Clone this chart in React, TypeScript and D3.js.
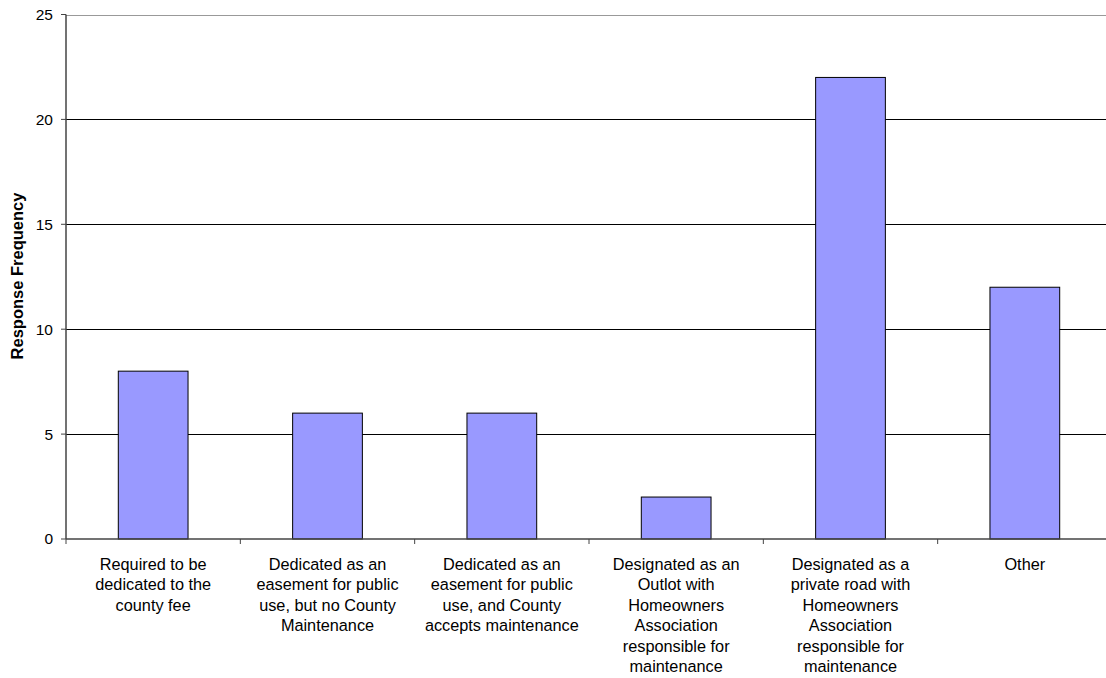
import React from "react";
import * as d3 from "d3";

const categories: string[][] = [
  ["Required to be", "dedicated to the", "county fee"],
  ["Dedicated as an", "easement for public", "use, but no County", "Maintenance"],
  ["Dedicated as an", "easement for public", "use, and County", "accepts maintenance"],
  ["Designated as an", "Outlot with", "Homeowners", "Association", "responsible for", "maintenance"],
  ["Designated as a", "private road with", "Homeowners", "Association", "responsible for", "maintenance"],
  ["Other"],
];
const values: number[] = [8, 6, 6, 2, 22, 12];
const yTicks: number[] = [0, 5, 10, 15, 20, 25];

const W = 1106;
const H = 678;
const left = 66;
const right = 1112;
const top = 14.5;
const bottom = 539;

export default function App() {
  const keys = categories.map((_, i) => String(i));
  const x = d3.scaleBand<string>().domain(keys).range([left, right]).paddingInner(0.6).paddingOuter(0.3);
  const band = (right - left) / categories.length;
  const y = d3.scaleLinear().domain([0, 25]).range([bottom, top]);
  const font = "Arial, 'Liberation Sans', sans-serif";
  return (
    <svg width={W} height={H} style={{ position: "absolute", left: 0, top: 0, background: "#fff" }} fontFamily={font}>
      {yTicks.filter((t) => t > 0).map((t) => (
        <line key={"g" + t} x1={left} x2={W} y1={Math.round(y(t)) + 0.5} y2={Math.round(y(t)) + 0.5}
          stroke={t === 25 ? "#999" : "#000"} strokeWidth={1} />
      ))}
      {values.map((v, i) => (
        <rect key={"b" + i} x={x(String(i))!} y={y(v)} width={x.bandwidth()} height={bottom - y(v)}
          fill="#9999ff" stroke="#000" strokeWidth={1} />
      ))}
      <line x1={left} x2={left} y1={top} y2={bottom} stroke="#444" strokeWidth={1.5} />
      <line x1={left} x2={W} y1={bottom} y2={bottom} stroke="#444" strokeWidth={1.5} />
      {yTicks.map((t) => (
        <g key={"t" + t}>
          <line x1={left - 5} x2={left} y1={y(t)} y2={y(t)} stroke="#444" strokeWidth={1} />
          <text x={53} y={y(t)} dy="0.35em" textAnchor="end" fontSize={15.5} fill="#000">{t}</text>
        </g>
      ))}
      {d3.range(categories.length + 1).map((i) => (
        <line key={"xt" + i} x1={left + i * band} x2={left + i * band} y1={bottom} y2={bottom + 5} stroke="#444" strokeWidth={1} />
      ))}
      {categories.map((lines, i) => (
        <text key={"l" + i} x={x(String(i))! + x.bandwidth() / 2} y={570} textAnchor="middle" fontSize={16.3} fill="#000">
          {lines.map((ln, j) => (
            <tspan key={j} x={x(String(i))! + x.bandwidth() / 2} dy={j === 0 ? 0 : 20.4}>{ln}</tspan>
          ))}
        </text>
      ))}
      <text transform={`translate(23, 276) rotate(-90)`} textAnchor="middle" fontSize={16.5} fontWeight="bold" fill="#000">
        Response Frequency
      </text>
    </svg>
  );
}
